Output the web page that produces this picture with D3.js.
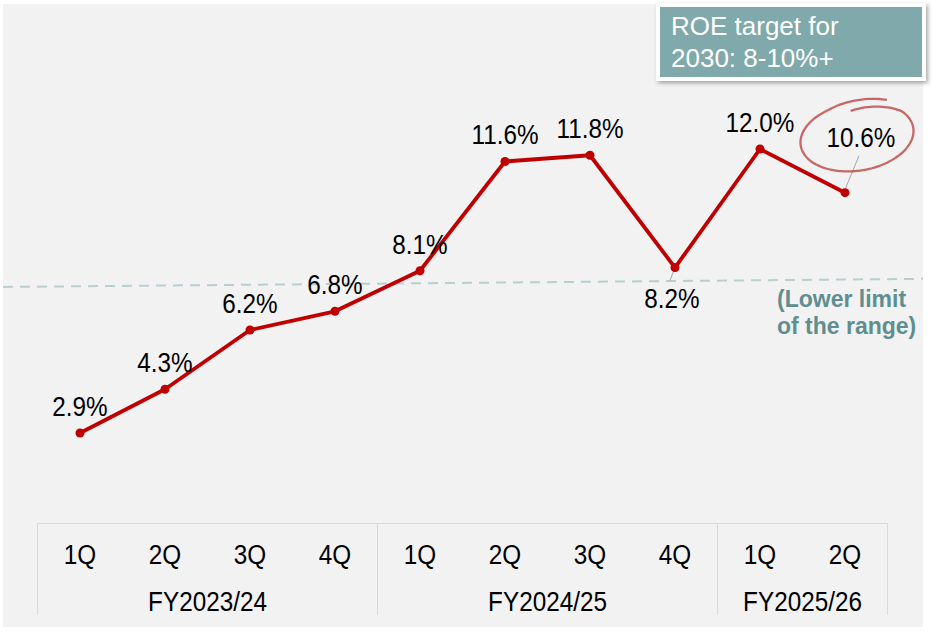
<!DOCTYPE html>
<html>
<head>
<meta charset="utf-8">
<script src="https://cdn.jsdelivr.net/npm/d3@7"></script>
<style>
  html, body { margin: 0; padding: 0; background: #fff; }
  svg { display: block; font-family: "Liberation Sans", Arial, sans-serif; }
</style>
</head>
<body>
<div id="chart"></div>
<script>
// ROE by quarter
const quarters = ['1Q', '2Q', '3Q', '4Q', '1Q', '2Q', '3Q', '4Q', '1Q', '2Q'];
const fiscalYears = ['FY2023/24', 'FY2024/25', 'FY2025/26'];
const quarterYear = [0, 0, 0, 0, 1, 1, 1, 1, 2, 2];
const roe = [2.9, 4.3, 6.2, 6.8, 8.1, 11.6, 11.8, 8.2, 12.0, 10.6];
const labelPlace = ['above', 'above', 'above', 'above', 'above', 'above', 'above', 'below', 'above', 'callout'];
const lowerLimit = [7.58, 7.84]; // dashed guide, left end / right end
const targetText = ['ROE target for', '2030: 8-10%+'];
const limitText = ['(Lower limit', 'of the range)'];

const width = 932
    , height = 642
    , red = '#c00000'
    , grid = '#d9d9d9'
    , teal = '#7fa9aa'
    , squeeze = 0.9 // the picture's text is a bit narrow
    ;

const svg = d3.select('#chart')
  .append('svg')
    .attr('width', width)
    .attr('height', height);

const defs = svg.append('defs');
defs.append('filter')
    .attr('id', 'shadow')
    .attr('x', '-10%').attr('y', '-20%').attr('width', '130%').attr('height', '150%')
  .append('feDropShadow')
    .attr('dx', 2).attr('dy', 2)
    .attr('stdDeviation', 2)
    .attr('flood-color', '#000')
    .attr('flood-opacity', 0.35);

// panel background
svg.append('rect')
    .attr('x', 3).attr('y', 4)
    .attr('width', 920).attr('height', 623)
    .attr('fill', '#f2f2f2');

const x = d3.scaleBand()
    .domain(d3.range(quarters.length))
    .range([37.5, 887.5]);
const cx = i => x(i) + x.bandwidth() / 2;

const y = d3.scaleLinear()
    .domain([0, 12])
    .range([523.5, 149]);

const place = (px, py) => `translate(${px},${py}) scale(${squeeze},1)`;

// dashed lower-limit guide
svg.append('line')
    .attr('x1', 3).attr('x2', 923)
    .attr('y1', y(lowerLimit[0]))
    .attr('y2', y(lowerLimit[1]))
    .attr('stroke', '#b7cfd1')
    .attr('stroke-width', 2)
    .attr('stroke-dasharray', '10,7');

svg.append('g')
    .attr('fill', '#5e8e90')
    .attr('font-weight', 'bold')
    .attr('font-size', 23)
  .selectAll('text')
  .data(limitText)
  .join('text')
    .attr('x', 777)
    .attr('y', (d, i) => 307 + i * 27)
    .text(d => d);

// category axis: table-like frame
const axis = svg.append('g').attr('stroke', grid).attr('stroke-width', 1);
axis.append('line')
    .attr('x1', x.range()[0]).attr('x2', x.range()[1])
    .attr('y1', y(0)).attr('y2', y(0));

const yearSpans = fiscalYears.map((name, k) => {
  const idx = d3.range(quarters.length).filter(i => quarterYear[i] === k);
  return { name, x0: x(idx[0]), x1: x(idx[idx.length - 1]) + x.bandwidth() };
});
const edges = [yearSpans[0].x0].concat(yearSpans.map(d => d.x1));

axis.selectAll('line.edge')
  .data(edges)
  .join('line')
    .attr('class', 'edge')
    .attr('x1', d => d).attr('x2', d => d)
    .attr('y1', y(0)).attr('y2', 615);

svg.append('g')
    .attr('font-size', 27)
    .attr('text-anchor', 'middle')
    .attr('fill', '#000')
  .selectAll('text')
  .data(quarters)
  .join('text')
    .attr('transform', (d, i) => place(cx(i), 564))
    .text(d => d);

svg.append('g')
    .attr('font-size', 27)
    .attr('text-anchor', 'middle')
    .attr('fill', '#000')
  .selectAll('text')
  .data(yearSpans)
  .join('text')
    .attr('transform', d => place((d.x0 + d.x1) / 2, 611))
    .text(d => d.name);

// leader lines
const leaders = svg.append('g').attr('stroke', '#a6a6a6').attr('stroke-width', 1);
roe.forEach((v, i) => {
  if (labelPlace[i] === 'below') {
    leaders.append('line')
        .attr('x1', cx(i)).attr('y1', y(v))
        .attr('x2', cx(i) - 5).attr('y2', y(v) + 13);
  } else if (labelPlace[i] === 'callout') {
    leaders.append('line')
        .attr('x1', cx(i)).attr('y1', y(v) - 3)
        .attr('x2', cx(i) + 14).attr('y2', y(v) - 37);
  }
});

// ROE line
const line = d3.line()
    .x((d, i) => cx(i))
    .y(d => y(d));

svg.append('path')
    .datum(roe)
    .attr('fill', 'none')
    .attr('stroke', red)
    .attr('stroke-width', 3.8)
    .attr('stroke-linejoin', 'round')
    .attr('d', line);

svg.append('g')
    .attr('fill', red)
  .selectAll('circle')
  .data(roe)
  .join('circle')
    .attr('cx', (d, i) => cx(i))
    .attr('cy', d => y(d))
    .attr('r', 4.5);

// value labels
const labelX = (d, i) => labelPlace[i] === 'callout' ? cx(i) + 16 : labelPlace[i] === 'below' ? cx(i) - 3 : cx(i);
const labelY = (d, i) => labelPlace[i] === 'callout' ? y(d) - 46 : labelPlace[i] === 'below' ? y(d) + 40 : y(d) - 17;

svg.append('g')
    .attr('font-size', 27)
    .attr('text-anchor', 'middle')
    .attr('fill', '#000')
  .selectAll('text')
  .data(roe)
  .join('text')
    .attr('transform', (d, i) => place(labelX(d, i), labelY(d, i)))
    .text(d => d.toFixed(1) + '%');

// hand-drawn ring around the latest value
const last = roe.length - 1
    , ringC = [cx(last) + 12, y(roe[last]) - 56]
    , rot = -9 * Math.PI / 180
    , sweep = 2 * Math.PI + 0.6
    ;
const ringPts = d3.range(0, 1.0001, 1 / 120).map(t => {
  const a = -1.0 - t * sweep
      , k = t < 0.15 ? 1.12 - 0.12 * t / 0.15
          : t > 0.85 ? 1 - 0.22 * (t - 0.85) / 0.15
          : 1
      , px = 57 * k * Math.cos(a)
      , py = 34 * k * Math.sin(a)
      ;
  return [ringC[0] + px * Math.cos(rot) - py * Math.sin(rot),
          ringC[1] + px * Math.sin(rot) + py * Math.cos(rot)];
});
svg.append('path')
    .attr('d', d3.line().curve(d3.curveBasis)(ringPts))
    .attr('fill', 'none')
    .attr('stroke', '#c0504d')
    .attr('stroke-opacity', 0.85)
    .attr('stroke-linecap', 'round')
    .attr('stroke-width', 2.3);

// target box
const box = svg.append('g');
box.append('rect')
    .attr('x', 658).attr('y', 5)
    .attr('width', 266).attr('height', 74)
    .attr('fill', teal)
    .attr('stroke', '#fff')
    .attr('stroke-width', 4)
    .attr('filter', 'url(#shadow)');
box.append('g')
    .attr('fill', '#fff')
    .attr('font-size', 26)
  .selectAll('text')
  .data(targetText)
  .join('text')
    .attr('x', 671)
    .attr('y', (d, i) => 35 + i * 32)
    .text(d => d);
</script>
</body>
</html>
